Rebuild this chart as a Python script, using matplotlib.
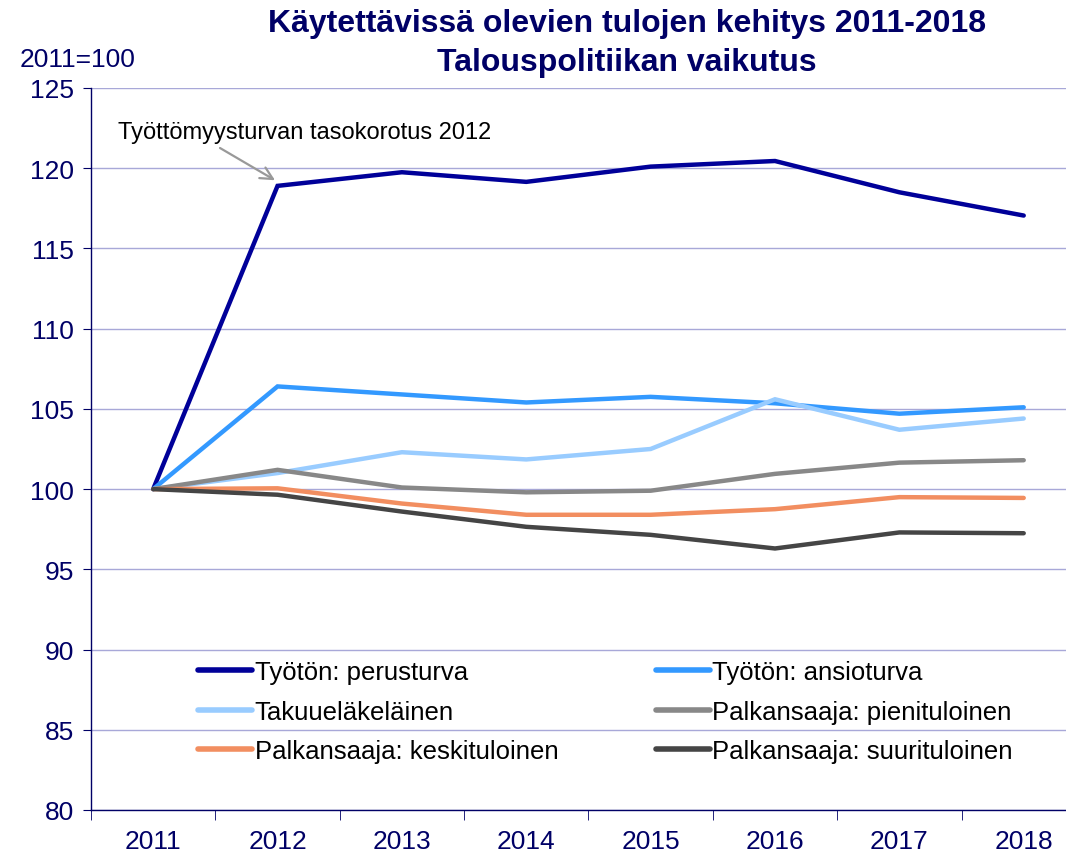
import matplotlib
matplotlib.use("Agg")
import matplotlib.pyplot as plt

plt.rcParams['font.family'] = ['Liberation Sans', 'DejaVu Sans']

years = ['2011', '2012', '2013', '2014', '2015', '2016', '2017', '2018']

perusturva = [100, 118.9, 119.75, 119.15, 120.1, 120.45, 118.5, 117.05]
ansioturva = [100, 106.4, 105.9, 105.4, 105.75, 105.35, 104.7, 105.1]
takuuelake = [100, 101.0, 102.3, 101.85, 102.5, 105.6, 103.7, 104.4]
pienituloinen = [100, 101.2, 100.1, 99.8, 99.9, 100.95, 101.65, 101.8]
keskituloinen = [100, 100.05, 99.1, 98.4, 98.4, 98.75, 99.5, 99.45]
suurituloinen = [100, 99.65, 98.6, 97.65, 97.15, 96.3, 97.3, 97.25]

series = [
    ('Työtön: perusturva', perusturva, '#000099'),
    ('Työtön: ansioturva', ansioturva, '#3399FF'),
    ('Takuueläkeläinen', takuuelake, '#99CCFF'),
    ('Palkansaaja: pienituloinen', pienituloinen, '#888888'),
    ('Palkansaaja: keskituloinen', keskituloinen, '#F28E60'),
    ('Palkansaaja: suurituloinen', suurituloinen, '#454545'),
]

navy = '#000066'

fig = plt.figure(figsize=(10.66, 8.53), dpi=100)
ax = fig.add_axes([91 / 1066, 1 - 811 / 853, 1 - 91 / 1066, (811 - 89) / 853])

x = list(range(len(years)))
lines = []
for label, vals, color in series:
    ln, = ax.plot(x, vals, color=color, lw=3.2, label=label, solid_capstyle='round',
                  solid_joinstyle='miter')
    lines.append(ln)

ax.set_ylim(80, 125)
ax.set_yticks(range(80, 126, 5))
ax.set_xlim(-0.5, 7.34)
ax.set_xticks(x)
ax.set_xticklabels(years)
ax.set_xticks([i - 0.5 for i in range(len(years))], minor=True)
ax.tick_params(axis='x', which='major', length=0, pad=14, labelsize=19, labelcolor=navy)
ax.tick_params(axis='x', which='minor', length=7, color=navy, direction='out')
ax.tick_params(axis='y', length=6, color=navy, labelsize=19, labelcolor=navy, pad=6)

ax.yaxis.grid(True, color='#a8a8d8', lw=1)
ax.set_axisbelow(True)
for side in ['top', 'right']:
    ax.spines[side].set_visible(False)
for side in ['left', 'bottom']:
    ax.spines[side].set_color(navy)
    ax.spines[side].set_linewidth(1)

ax.annotate('Työttömyysturvan tasokorotus 2012', xy=(0.98, 119.25), xytext=(-0.28, 122.25),
            fontsize=17, va='center', ha='left', color='black',
            arrowprops=dict(arrowstyle='->', color='#999999', lw=1.6,
                            shrinkA=3, shrinkB=0, mutation_scale=22,
                            relpos=(0.25, 0.0)))

# row-wise order for the two-column legend
order = [0, 2, 4, 1, 3, 5]
leg = ax.legend([lines[i] for i in order], [series[i][0] for i in order],
                loc='lower left', bbox_to_anchor=(0.086, 0.033), ncol=2, frameon=False,
                fontsize=18.5, handlelength=2.1, handletextpad=0.1, columnspacing=3.8,
                labelspacing=0.6)
for line in leg.get_lines():
    line.set_linewidth(4)

fig.text(627 / 1066, 1 - 24 / 853, 'Käytettävissä olevien tulojen kehitys 2011-2018',
         ha='center', va='center', fontsize=23, fontweight='bold', color=navy)
fig.text(627 / 1066, 1 - 63 / 853, 'Talouspolitiikan vaikutus',
         ha='center', va='center', fontsize=23, fontweight='bold', color=navy)
fig.text(20 / 1066, 1 - 60 / 853, '2011=100', ha='left', va='center',
         fontsize=19, color=navy)

fig.savefig('out.png', dpi=100)
